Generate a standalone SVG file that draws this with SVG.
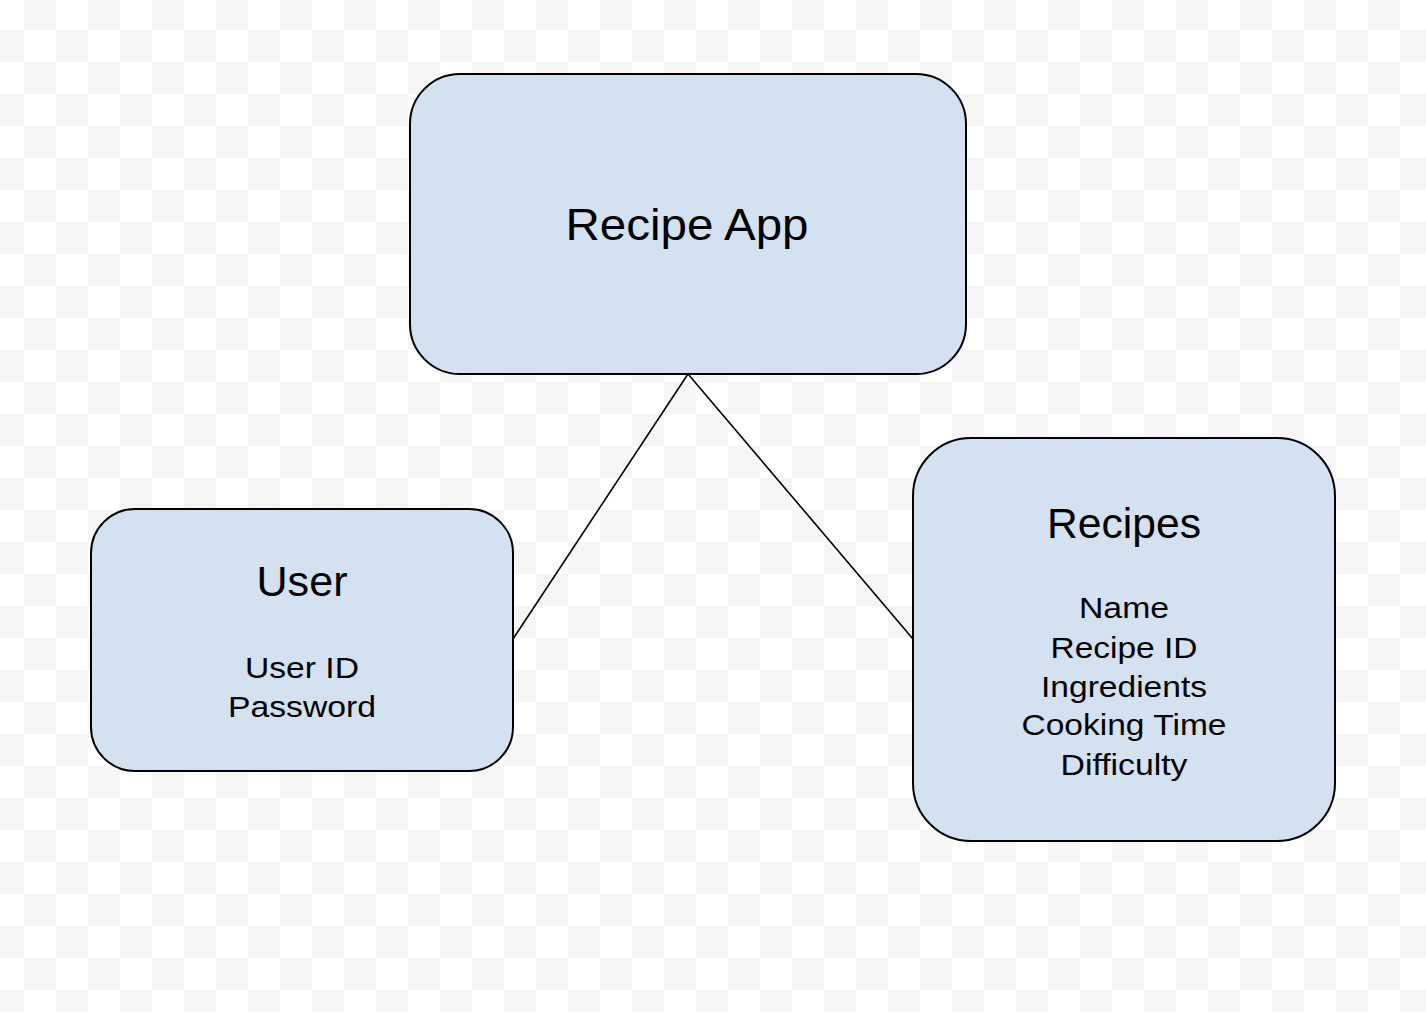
<svg xmlns="http://www.w3.org/2000/svg" width="1426" height="1012" viewBox="0 0 1426 1012">
  <defs>
    <pattern id="checker" patternUnits="userSpaceOnUse" x="24" y="-2" width="64" height="64">
      <rect x="0" y="0" width="64" height="64" fill="#ffffff"/>
      <rect x="0" y="0" width="32" height="32" fill="#f6f6f6"/>
      <rect x="32" y="32" width="32" height="32" fill="#f6f6f6"/>
    </pattern>
    <style>
      .box { fill: #d4e1f1; stroke: #000000; stroke-width: 2; }
      .edge { stroke: #000000; stroke-width: 1.6; fill: none; }
      .title { font-family: "Liberation Sans", Arial, sans-serif; fill: #000000; text-anchor: middle; }
      .item { font-family: "Liberation Sans", Arial, sans-serif; font-size: 30px; fill: #000000; text-anchor: middle; }
    </style>
  </defs>
  <rect x="0" y="0" width="1426" height="1012" fill="url(#checker)"/>
  <g id="connectors">
    <line class="edge" x1="688" y1="374" x2="513" y2="639"/>
    <line class="edge" x1="688" y1="374" x2="913" y2="639"/>
  </g>
  <g id="recipe-app">
    <rect class="box" x="410" y="74" width="556" height="300" rx="50" ry="50"/>
    <text class="title" x="687" y="240" font-size="44" textLength="243" lengthAdjust="spacingAndGlyphs">Recipe App</text>
  </g>
  <g id="user">
    <rect class="box" x="91" y="509" width="422" height="262" rx="44" ry="44"/>
    <text class="title" x="302" y="596" font-size="42" textLength="91" lengthAdjust="spacingAndGlyphs">User</text>
    <text class="item" x="302" y="678" textLength="114" lengthAdjust="spacingAndGlyphs">User ID</text>
    <text class="item" x="302" y="717" textLength="148" lengthAdjust="spacingAndGlyphs">Password</text>
  </g>
  <g id="recipes">
    <rect class="box" x="913" y="438" width="422" height="403" rx="58" ry="58"/>
    <text class="title" x="1124" y="538" font-size="42" textLength="154" lengthAdjust="spacingAndGlyphs">Recipes</text>
    <text class="item" x="1124" y="618" textLength="90" lengthAdjust="spacingAndGlyphs">Name</text>
    <text class="item" x="1124" y="658" textLength="147" lengthAdjust="spacingAndGlyphs">Recipe ID</text>
    <text class="item" x="1124" y="697" textLength="166" lengthAdjust="spacingAndGlyphs">Ingredients</text>
    <text class="item" x="1124" y="735" textLength="205" lengthAdjust="spacingAndGlyphs">Cooking Time</text>
    <text class="item" x="1124" y="775" textLength="127" lengthAdjust="spacingAndGlyphs">Difficulty</text>
  </g>
</svg>
